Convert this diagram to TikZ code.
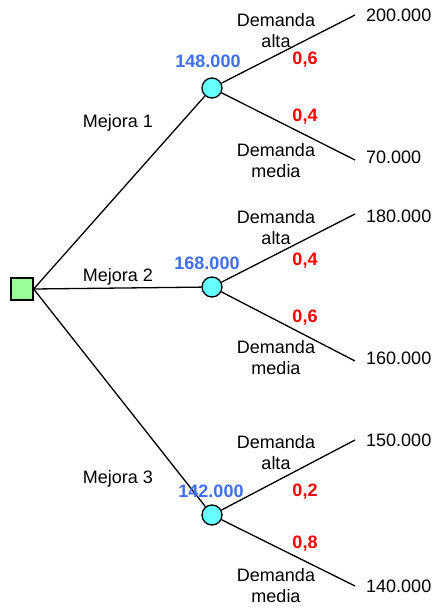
\documentclass[tikz,border=0pt]{standalone}
\usepackage{fontspec}
\setmainfont{Liberation Sans}
\definecolor{sqgreen}{HTML}{99FF99}
\definecolor{circcyan}{HTML}{66FFFF}
\definecolor{valblue}{HTML}{3F6FF0}
\definecolor{probred}{HTML}{FF0000}
\begin{document}
\begin{tikzpicture}[x=1pt,y=-1pt,
  txt/.style={font=\fontsize{18}{21}\selectfont, align=center, inner sep=0pt},
  val/.style={font=\fontsize{18}{21}\selectfont\bfseries, text=valblue, inner sep=0pt},
  prob/.style={font=\fontsize{18}{21}\selectfont\bfseries, text=probred, inner sep=0pt},
  decision/.style={draw, fill=sqgreen, line width=1.3pt, minimum size=22pt, inner sep=0pt},
  chance/.style={draw, circle, fill=circcyan, line width=1.3pt, minimum size=20pt, inner sep=0pt},
  edge/.style={line width=1.3pt}]
\useasboundingbox (0,0) rectangle (437,609);
\node[decision] (sq) at (22,289) {};
\node[chance] (c1) at (212,88) {};
\node[chance] (c2) at (212,287) {};
\node[chance] (c3) at (212,515) {};
\coordinate (e1a) at (355,15);
\coordinate (e1b) at (355,160);
\coordinate (e2a) at (355,214);
\coordinate (e2b) at (355,361);
\coordinate (e3a) at (355,440);
\coordinate (e3b) at (355,586);
\draw[edge] (sq.east) -- (c1);
\draw[edge] (sq.east) -- (c2);
\draw[edge] (sq.east) -- (c3);
\draw[edge] (c1) -- (e1a);
\draw[edge] (c1) -- (e1b);
\draw[edge] (c2) -- (e2a);
\draw[edge] (c2) -- (e2b);
\draw[edge] (c3) -- (e3a);
\draw[edge] (c3) -- (e3b);
% labels
\node[txt] (m1) at (118,123) {Mejora 1};
\node[txt] (m2) at (118,277) {Mejora 2};
\node[txt] (m3) at (118,479) {Mejora 3};
\node[val] (v1) at (208,61) {148.000};
\node[val] (v2) at (207,263) {168.000};
\node[val] (v3) at (211,491) {142.000};
\node[txt] (d1a) at (276,31) {Demanda\\alta};
\node[txt] (d1b) at (276,161) {Demanda\\media};
\node[txt] (d2a) at (276,228) {Demanda\\alta};
\node[txt] (d2b) at (276,358) {Demanda\\media};
\node[txt] (d3a) at (276,453) {Demanda\\alta};
\node[txt] (d3b) at (276,586) {Demanda\\media};
\node[prob] (p1a) at (305,60) {0,6};
\node[prob] (p1b) at (305,117) {0,4};
\node[prob] (p2a) at (305,261) {0,4};
\node[prob] (p2b) at (305,318) {0,6};
\node[prob] (p3a) at (305,492) {0,2};
\node[prob] (p3b) at (305,544) {0,8};
\node[txt, anchor=west] (o1a) at (366,15) {200.000};
\node[txt, anchor=west] (o1b) at (366,157) {70.000};
\node[txt, anchor=west] (o2a) at (366,216) {180.000};
\node[txt, anchor=west] (o2b) at (366,358) {160.000};
\node[txt, anchor=west] (o3a) at (366,440) {150.000};
\node[txt, anchor=west] (o3b) at (366,586) {140.000};
\end{tikzpicture}
\end{document}
